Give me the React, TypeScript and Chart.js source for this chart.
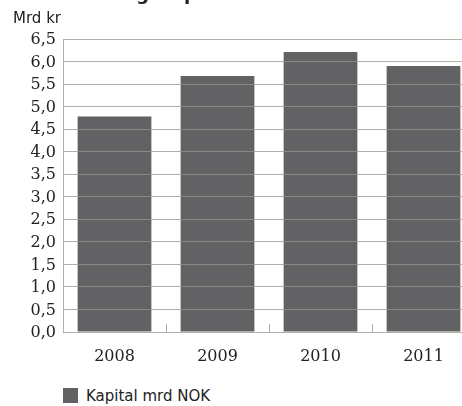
import { useEffect, useRef } from "react";
import { Chart, registerables } from "chart.js";

Chart.register(...registerables);

// Capital per year, in billions of NOK
const years = ["2008", "2009", "2010", "2011"];
const capital = [4.78, 5.68, 6.21, 5.9];
const seriesLabel = "Kapital mrd NOK";
const unitLabel = "Mrd kr";
const heading = "Forvaltningskapital";
const yMin = 0;
const yMax = 6.5;
const yStep = 0.5;

const BAR = "#626264";
const AXIS = "#b3afa5";
const GRID = "rgba(152,149,138,0.75)";
const TEXT = "#222222";
const SERIF = "'DejaVu Serif', serif";
const SANS = "'DejaVu Sans', sans-serif";

export default function App() {
  const ref = useRef<HTMLCanvasElement>(null);

  useEffect(() => {
    if (!ref.current) return;
    const chart = new Chart(ref.current, {
      type: "bar",
      data: {
        labels: years,
        datasets: [
          {
            label: seriesLabel,
            data: capital,
            backgroundColor: BAR,
            borderWidth: 0,
            barPercentage: 0.716,
            categoryPercentage: 1,
          },
        ],
      },
      options: {
        animation: false,
        responsive: false,
        layout: { padding: { top: 39, right: 5, left: 0, bottom: 0 } },
        plugins: {
          legend: { display: false },
          tooltip: { enabled: false },
        },
        scales: {
          x: {
            offset: true,
            grid: {
              offset: true,
              drawOnChartArea: false,
              drawTicks: true,
              tickLength: -8,
              color: AXIS,
              z: 1,
            },
            // drawn after the grid so the axis line sits on top of the bars
            border: { color: AXIS, width: 1, z: 2 },
            ticks: {
              padding: 23,
              color: TEXT,
              font: { family: SERIF, size: 16 },
            },
            afterFit: (s: any) => {
              s.height = 48;
            },
          },
          y: {
            min: yMin,
            max: yMax,
            grid: { color: GRID, drawTicks: false, z: 1 },
            border: { display: true, color: AXIS, width: 1, z: 2 },
            ticks: {
              stepSize: yStep,
              padding: 7,
              labelOffset: 1,
              color: TEXT,
              font: { family: SERIF, size: 16 },
              callback: (v: any) => Number(v).toFixed(1).replace(".", ","),
            },
            afterFit: (s: any) => {
              s.width = 63;
            },
          },
        },
      },
    });
    return () => chart.destroy();
  }, []);

  return (
    <div
      style={{
        position: "absolute",
        left: 0,
        top: 0,
        width: 462,
        height: 406,
        overflow: "hidden",
        background: "#ffffff",
        fontFamily: SANS,
        color: TEXT,
      }}
    >
      <canvas
        ref={ref}
        width={480}
        height={380}
        style={{ position: "absolute", left: 0, top: 0 }}
      />
      <div
        style={{
          position: "absolute",
          left: 33,
          top: -15,
          fontSize: 18,
          lineHeight: "18px",
          fontWeight: "bold",
          whiteSpace: "nowrap",
        }}
      >
        {heading}
      </div>
      <div
        style={{
          position: "absolute",
          left: 13,
          top: 11,
          fontSize: 15,
          lineHeight: "15px",
          whiteSpace: "nowrap",
        }}
      >
        {unitLabel}
      </div>
      <div
        style={{
          position: "absolute",
          left: 63,
          top: 388,
          width: 15,
          height: 15,
          background: BAR,
        }}
      />
      <div
        style={{
          position: "absolute",
          left: 86,
          top: 389,
          fontSize: 15,
          lineHeight: "15px",
          whiteSpace: "nowrap",
        }}
      >
        {seriesLabel}
      </div>
    </div>
  );
}
